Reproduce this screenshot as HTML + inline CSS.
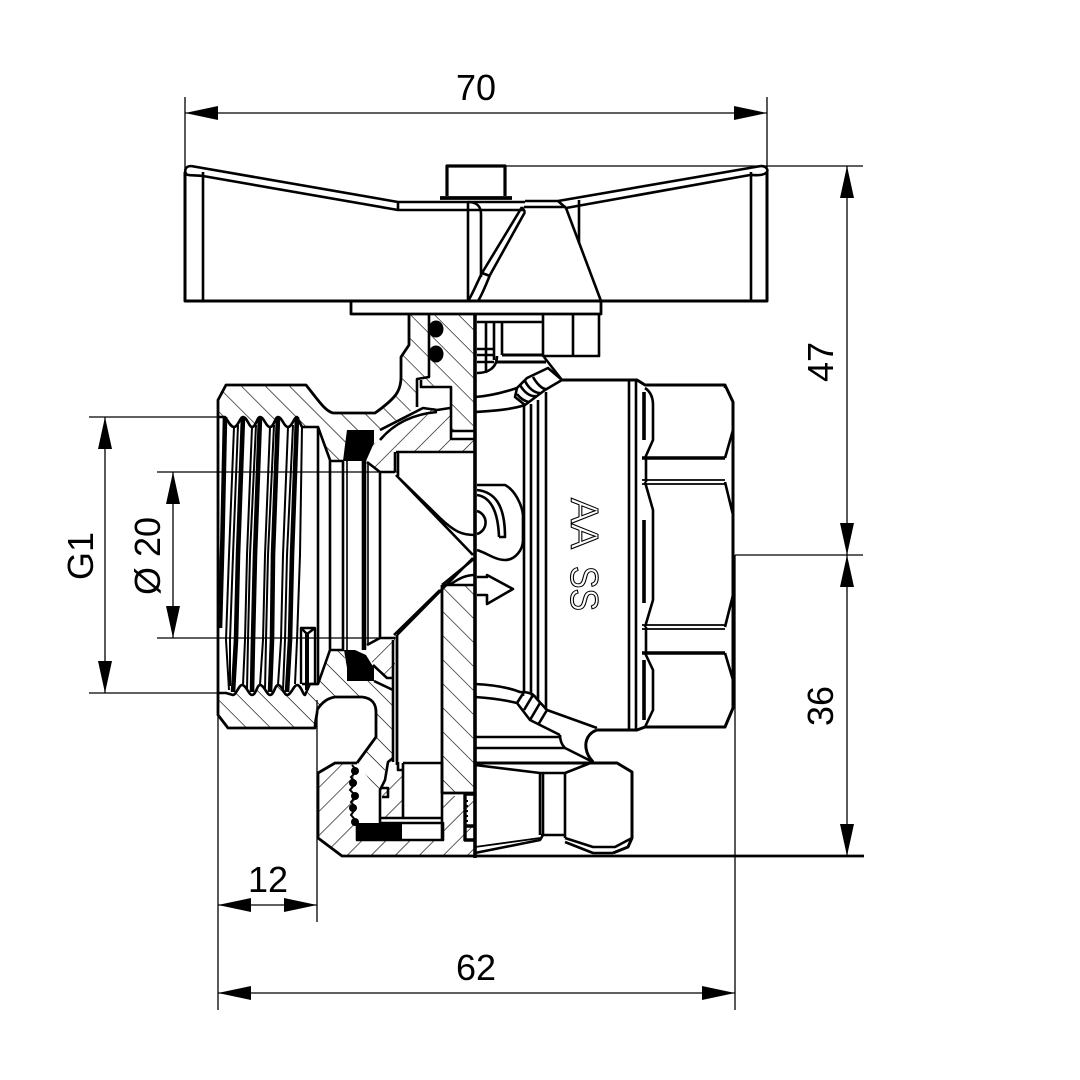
<!DOCTYPE html>
<html><head><meta charset="utf-8"><style>
html,body{margin:0;padding:0;background:#fff}
svg{display:block}
text{font-family:"Liberation Sans",sans-serif;fill:#000}
</style></head><body>
<svg width="1080" height="1080" viewBox="0 0 1080 1080" xmlns="http://www.w3.org/2000/svg">
<defs>
<pattern id="hb" width="17" height="17" patternUnits="userSpaceOnUse" patternTransform="rotate(45)">
<line x1="0" y1="0" x2="17" y2="0" stroke="#000" stroke-width="1.2"/></pattern>
<pattern id="hf" width="17" height="17" patternUnits="userSpaceOnUse" patternTransform="rotate(-45)">
<line x1="0" y1="0" x2="17" y2="0" stroke="#000" stroke-width="1.2"/></pattern>
</defs>
<rect width="1080" height="1080" fill="#fff"/>

<!-- hatching -->
<g stroke="none">
<path fill="url(#hb)" d="M218 417V400L226 385H306L320 407L333 413H375L395 397L401 377V357L409 345V314H429V377L417 379V407L380 430H347L343 461H330L318 427H302L297 417L288 427L278 417L270 427L260 417L252 427L243 417L234 427L225 417Z"/>
<path fill="url(#hb)" d="M429 314H475V431H451V387H421V380L429 377Z"/>
<path fill="url(#hf)" d="M367 462L380 472H395V452H475V440H451V408H430L400 420L380 440L372 445Z"/>
<path fill="url(#hb)" d="M218 693L234 695L242 685L252 695L260 685L270 695L278 685L287 695L305 695L318 684L330 650H344L347 681H374L393 690V760H387L380 793L357 763L376 737V710L362 697H330L317 710L315 728H228L218 715Z"/>
<path fill="url(#hf)" d="M367 645L380 638H395V678H387L373 665Z"/>
<path fill="url(#hb)" d="M443 585H475V793H443Z"/>
<path fill="url(#hf)" d="M335 763H343L352 767L356 790L357 823V839H443V796H475V856H342L318 838V773Z"/>
<path fill="url(#hf)" d="M383 790L394 772H403V817H382Z"/>
</g>

<!-- section / body outlines -->
<g fill="none" stroke="#000" stroke-width="2.6" stroke-linejoin="round" stroke-linecap="butt">
<!-- handle -->
<path stroke-width="3" d="M185 172V301H767V172"/>
<path d="M203 172V301M751 172V301"/>
<path d="M191 166C186 166 184 170 186 174C188 176 196 175 203 176L398 210H524M191 166L398 202H525"/>
<path d="M398 202V210"/>
<path d="M761 166C767 166 769 171 766 173C762 176 755 175 750 175L566 208M761 166L558 201H525"/>
<path d="M524 207H566"/>
<path d="M579 200V243"/>
<path d="M566 208L558 201M566 208L601 301"/>
<path d="M468 202V301M468 202C476 202 481 206 481 214V277"/>
<path d="M522 207L482 273C476 285 472 295 468 301M525 212L490 275C485 287 482 295 478 301M482 273L490 276M522 207L525 212"/>
<path stroke-width="3.2" d="M447 196V166H505V196"/>
<path stroke-width="3.8" d="M440 198H512"/>
<rect x="351" y="301" width="250" height="13" stroke-width="2.8"/>
<!-- top stem right -->
<path d="M477 322H543M543 314V356H599V314M573 314V356"/>
<path d="M486 322V373M494 322V360M502 322V355M477 349H494M477 355H494M477 362H494M477 373C488 373 497 368 497 356"/>
<path d="M502 355H543M497 362H546" stroke-width="3"/>
<path d="M544 357L562 380"/>
<path d="M562 380L548 368L527 378L517 388L515 397L525 405L545 390Z"/>
<path d="M475 397C490 396 505 392 517 388M475 412C490 411 510 410 525 405"/>
<path d="M520 385C524 392 530 397 536 396M525 381C529 389 535 393 540 393M533 377C537 384 542 389 546 389M517 394C520 398 524 401 529 402"/>
<!-- left body outline -->
<path stroke-width="2.8" d="M409 314V345L401 357V377C401 391 396 398 375 413H333C325 411 318 400 306 385H226L218 400V715L228 728H315C315 720 318 712 317 710"/>
<path d="M429 314V377L417 379V407M421 380V387H451V439H475M451 431H475"/>
<path d="M380 430L423 408L437 410L450 408M380 440C395 422 415 414 437 412"/>
<path d="M302 427H318L330 460V650L318 684H302"/>
<path d="M330 461H344M330 650H344"/>
<path d="M318 427V684"/>
<path stroke-width="1.6" d="M347 460V650M368 462V645"/>
<path d="M343 461V650M380 472V638"/>
<path stroke-width="4.6" d="M364 460V650"/>
<path d="M367 462L380 472H395M380 638L367 645M380 638H395"/>
<path d="M395 452V472M398 452V476M396 452H475"/>
<path d="M396 475L473 555M473 558L397 635M400 479L440 518C455 532 462 535 475 535"/>
<path d="M394 635L440 590"/>
<path stroke-width="2.8" d="M397 635V765"/>
<path d="M393 640V762"/>
<path d="M373 665L387 678H393M374 681L393 690"/>
<path stroke-width="2.8" d="M442 585V793H475"/>
<path d="M442 585L475 558M442 585H475M475 575C462 575 455 582 449 585"/>
<!-- void -->
<path stroke-width="2.8" d="M317 710C322 702 328 698 335 697H362C372 698 376 704 376 712V737L357 763"/>
<!-- lower body -->
<path stroke-width="2.8" d="M357 763H335L318 773V838L342 856H864"/>
<path d="M403 763H442M403 763V818M381 818H442M381 823H443V840H357V823M442 763V840"/>
<path d="M393 758L388 762L385 780L380 790V823M382 788H388V797H382M398 762V770H403"/>
<!-- screw -->
<path stroke-width="3.4" d="M475 794H465V840H475M465 826H475"/>
<path stroke-width="4" stroke-dasharray="2 3" d="M466 800V826"/>
<!-- threads -->
<g stroke-width="4.6">
<path d="M225 417C224 480 222 560 220 628"/>
<path d="M243 417L238 555L236 640L233 692"/>
<path d="M260 417L255 555L253 640L252 692"/>
<path d="M278 417L273 555L272 640L270 692"/>
<path d="M297 417L292 555L290 640L287 692"/>
</g>
<g stroke-width="2">
<path d="M234 427L229 555L226 640L229 690"/>
<path d="M238 425L233 555L230 640L230 686"/>
<path d="M252 427L247 555L245 640L243 685"/>
<path d="M256 425L250 555L248 640L247 690"/>
<path d="M270 427L265 555L263 640L260 685"/>
<path d="M274 425L268 555L266 640L265 690"/>
<path d="M288 427L283 555L281 640L278 685"/>
<path d="M293 425L287 555L285 640L283 690"/>
<path d="M302 427L300 555L297 640L295 684"/>
</g>
<path stroke-width="2.6" d="M218 417H225C228 420 230 427 234 427C238 427 240 417 243 417C247 417 249 427 252 427C256 427 257 417 260 417C264 417 266 427 270 427C274 427 275 417 278 417C282 417 284 427 288 427C292 427 294 417 297 417L302 427"/>
<path stroke-width="2.6" d="M218 693H226L233 695C236 695 239 685 242 685C246 685 249 695 252 695C256 695 257 685 260 685C264 685 267 695 270 695C274 695 275 685 278 685C282 685 284 695 287 695C291 695 294 685 297 685C301 685 303 695 305 695L310 684H318"/>
<path stroke-width="2.4" d="M301 684V628H315V684M301 628L307 634L315 628"/>
<path stroke-width="4" d="M307 634V690"/>

<!-- right exterior -->
<path stroke-width="3" d="M562 380H637L645 385H725L733 402V708L725 727H645L637 730H597"/>
<path d="M524 405V692M531 404V693M538 400V696M546 392V710"/>
<path d="M629 380V730M636 380V730"/>
<path stroke-width="3.6" d="M644 520V603M644 392V440M644 660V720"/>
<path d="M645 388C651 392 653 398 653 405V440L645 458M645 482L653 510V600L645 627M645 653L653 670V710L645 727"/>
<path d="M725 458L733 430M725 482L733 515M725 627L733 595M725 653L733 680M725 385V388"/>
<path stroke-width="3.6" d="M642 458H725M642 653H725"/>
<path stroke-width="1.8" d="M642 480H725M642 484H725M642 625H725M642 629H725"/>
<path d="M646 458V482M646 627V653"/>
<!-- cam lobe -->
<path d="M477 485H505C515 490 522 505 523 515V540C523 550 515 560 505 560C495 560 487 553 477 550"/>
<path d="M477 490C495 492 505 505 505 537H499M477 495C490 497 498 510 499 537"/>
<path d="M477 511A12 12 0 0 1 477 534"/>
<path d="M477 577H487V575L513 589L487 604V595H477"/>
<!-- bottom right -->
<path d="M475 684C495 685 510 688 520 692C527 692 533 693 536 698L547 710L597 728"/>
<path d="M475 697C490 698 505 700 517 703L530 720L560 735"/>
<path d="M523 692V696M532 693V698M538 695V700M517 703L524 692M524 710L533 695M530 720L540 703M538 725L547 710"/>
<path stroke-width="3" d="M597 730C588 733 585 741 586 748C587 755 590 758 593 762"/>
<path d="M560 735C560 742 563 746 565 748L593 762"/>
<path d="M475 737H560M475 748H565"/>
<path stroke-width="3" d="M475 763H617L632 772V838L628 847L613 853"/>
<path d="M475 765L540 773H565L593 762"/>
<path d="M540 773V835M543 773V835M565 773V838M541 835H565"/>
<path d="M475 853L540 840L543 835M565 838L593 847H615L632 838M565 842L593 853H613"/>
<path stroke-width="1.8" d="M475 847L540 838"/>
<!-- centre -->
<path stroke-width="3.6" d="M475 314V858"/>
</g>

<!-- black parts -->
<g fill="#000" stroke="none">
<ellipse cx="436" cy="329" rx="7.5" ry="8.5"/>
<ellipse cx="436" cy="354" rx="7.5" ry="8.5"/>
<path d="M347 430H374V443L366 461H343L345 445Z"/>
<path d="M344 650H355L366 655L374 668V681H347V668Z"/>
<rect x="356" y="823" width="46" height="16"/>
<circle cx="355" cy="771" r="4"/><circle cx="353" cy="783" r="4"/><circle cx="355" cy="796" r="4"/><circle cx="353" cy="808" r="4"/><circle cx="355" cy="822" r="4"/>
</g>
<path d="M352 765L357 771L351 777L356 783L350 790L356 796L351 802L356 808L351 815L357 822" fill="none" stroke="#000" stroke-width="2"/>

<!-- AA SS -->
<g style="fill:#fff;stroke:#000;stroke-width:1.1">
<text transform="translate(571,498) rotate(90)" font-size="39" textLength="51" lengthAdjust="spacingAndGlyphs" style="fill:#fff;stroke:#000;stroke-width:1.1">AA</text>
<text transform="translate(571,566) rotate(90)" font-size="39" textLength="45" lengthAdjust="spacingAndGlyphs" style="fill:#fff;stroke:#000;stroke-width:1.1">SS</text>
</g>

<!-- dimensions -->
<g stroke="#000" stroke-width="1.3" fill="none">
<path d="M185 97V170M767 97V170M185 113H767"/>
<path d="M505 166H863M735 555H863M847 166V856"/>
<path d="M89 417H225M89 693H225M105 417V693"/>
<path d="M157 472H397M157 638H397M173 472V638"/>
<path d="M218 693V1010M317 700V922M218 905H317"/>
<path d="M735 555V1010M218 993H735"/>
</g>
<g fill="#000" stroke="none">
<path d="M185 113L218 106V120ZM767 113L734 106V120Z"/>
<path d="M847 166L840 198H854ZM847 555L840 523H854ZM847 555L840 587H854ZM847 856L840 824H854Z"/>
<path d="M105 417L98 449H112ZM105 693L98 661H112Z"/>
<path d="M173 472L166 504H180ZM173 638L166 606H180Z"/>
<path d="M218 905L251 898V912ZM317 905L284 898V912Z"/>
<path d="M218 993L251 986V1000ZM735 993L702 986V1000Z"/>
</g>
<text x="476" y="100" font-size="36" text-anchor="middle">70</text>
<text x="268" y="892" font-size="36" text-anchor="middle">12</text>
<text x="476" y="980" font-size="36" text-anchor="middle">62</text>
<text transform="translate(833,362) rotate(-90)" font-size="36" text-anchor="middle">47</text>
<text transform="translate(833,706) rotate(-90)" font-size="36" text-anchor="middle">36</text>
<text transform="translate(93,556) rotate(-90)" font-size="36" text-anchor="middle">G1</text>
<text transform="translate(160,556) rotate(-90)" font-size="36" text-anchor="middle">Ø 20</text>
</svg>
</body></html>
